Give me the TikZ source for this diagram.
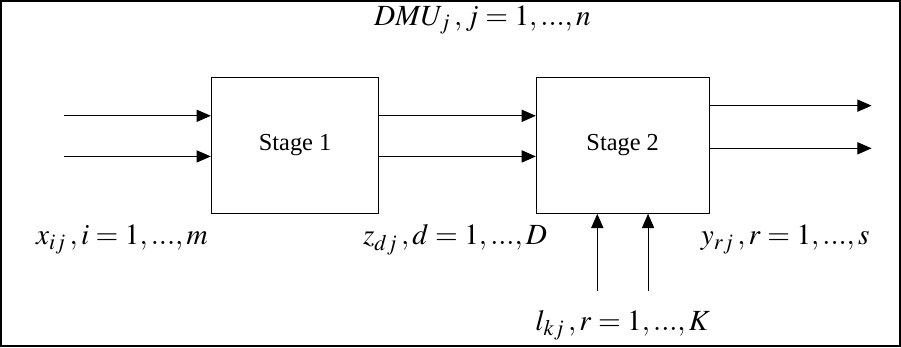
\documentclass[tikz,border=0pt]{standalone}
\usepackage{mathptmx}
\usepackage[no-math]{fontspec}
\setmainfont{Liberation Serif}
\usetikzlibrary{arrows.meta,positioning}
\tikzset{
  stagebox/.style={rectangle,draw=black,line width=0.5pt,minimum width=82.5pt,minimum height=67pt,inner sep=0pt,font=\large},
  flow/.style={-{Triangle[length=7pt,width=6pt]},line width=0.5pt,black},
  lab/.style={inner sep=0pt,font=\Large},
}
\begin{document}
\begin{tikzpicture}[x=0.5pt,y=-0.5pt]
  % outer frame
  \draw[line width=1pt] (8,3) rectangle (893,343);
  % the two stages
  \node[stagebox] (s1) at (297.5,145){Stage 1};
  \node[stagebox,minimum width=85pt] (s2) at (620,145){Stage 2};
  % free ends of the connectors
  \coordinate (x1) at (70,116); \coordinate (x2) at (70,156);
  \coordinate (y1) at (865,106); \coordinate (y2) at (865,148);
  \coordinate (l1) at (595,288); \coordinate (l2) at (645,288);
  % inputs, intermediate measures, outputs, additional inputs
  \draw[flow] (x1) -- (x1 -| s1.west); \draw[flow] (x2) -- (x2 -| s1.west);
  \draw[flow] (s1.east |- x1) -- (s2.west |- x1); \draw[flow] (s1.east |- x2) -- (s2.west |- x2);
  \draw[flow] (s2.east |- y1) -- (y1); \draw[flow] (s2.east |- y2) -- (y2);
  \draw[flow] (l1) -- (l1 |- s2.south); \draw[flow] (l2) -- (l2 |- s2.south);
  % labels
  \node[lab] (dmu) at (482,22){$DMU_{j}\,, j=1,...,n$};
  \node[lab] (xin) at (127,238){$x_{ij}\,, i=1,...,m$};
  \node[lab] (zmid) at (455,238){$z_{dj}\,, d=1,...,D$};
  \node[lab] (yout) at (780,238){$y_{rj}\,, r=1,...,s$};
  \node[lab] (lin) at (620,322){$l_{kj}\,, r=1,...,K$};
\end{tikzpicture}
\end{document}
